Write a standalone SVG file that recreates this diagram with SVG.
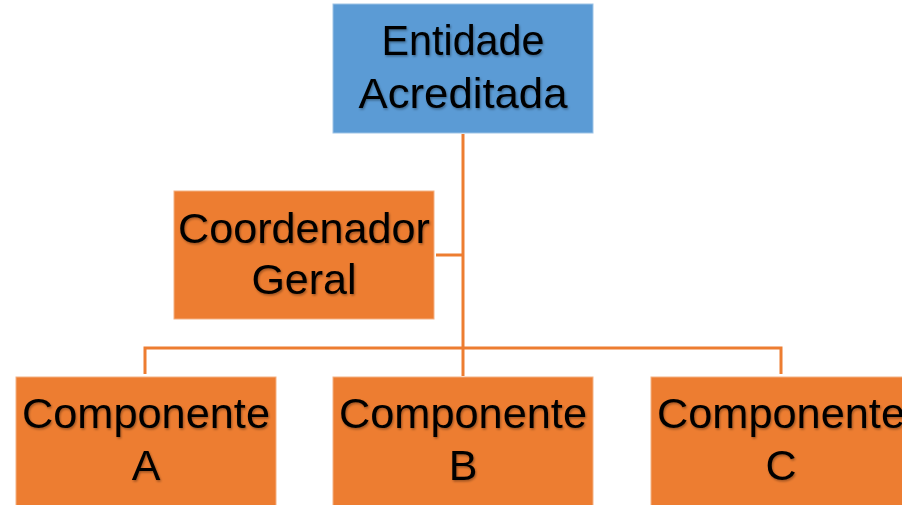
<svg xmlns="http://www.w3.org/2000/svg" width="902" height="505" viewBox="0 0 902 505">
  <defs>
    <filter id="sh" x="-10%" y="-10%" width="120%" height="140%">
      <feDropShadow dx="1" dy="1.5" stdDeviation="1" flood-color="#000" flood-opacity="0.35"/>
    </filter>
    <style>
      .blue { fill: #5B9BD5; stroke: #9DC3E6; stroke-width: 1; }
      .orange { fill: #ED7D31; stroke: #F4B183; stroke-width: 1; }
      .lbl { font-family: "Liberation Sans", Arial, sans-serif; font-size: 43px; fill: #000; text-anchor: middle; filter: url(#sh); }
      .conn { stroke: #ED7D31; stroke-width: 3; fill: none; }
    </style>
  </defs>
  <rect width="902" height="505" fill="#fff"/>
  <g id="connectors">
    <line class="conn" x1="463" y1="134" x2="463" y2="376"/>
    <line class="conn" x1="436" y1="255" x2="463" y2="255"/>
    <polyline class="conn" points="145,374 145,348 781,348 781,374"/>
  </g>
  <g id="entidade">
    <rect class="blue" x="333" y="4" width="260" height="129"/>
    <text class="lbl" x="463" y="55" textLength="163" lengthAdjust="spacingAndGlyphs">Entidade</text>
    <text class="lbl" x="463" y="108" textLength="209" lengthAdjust="spacingAndGlyphs">Acreditada</text>
  </g>
  <g id="coordenador">
    <rect class="orange" x="174" y="191" width="260" height="128"/>
    <text class="lbl" x="304" y="243" textLength="252" lengthAdjust="spacingAndGlyphs">Coordenador</text>
    <text class="lbl" x="304" y="294">Geral</text>
  </g>
  <g id="componenteA">
    <rect class="orange" x="16" y="377" width="260" height="129"/>
    <text class="lbl" x="146" y="428" textLength="248" lengthAdjust="spacingAndGlyphs">Componente</text>
    <text class="lbl" x="146" y="480">A</text>
  </g>
  <g id="componenteB">
    <rect class="orange" x="333" y="377" width="260" height="129"/>
    <text class="lbl" x="463" y="428" textLength="248" lengthAdjust="spacingAndGlyphs">Componente</text>
    <text class="lbl" x="463" y="480">B</text>
  </g>
  <g id="componenteC">
    <rect class="orange" x="651" y="377" width="260" height="129"/>
    <text class="lbl" x="781" y="428" textLength="248" lengthAdjust="spacingAndGlyphs">Componente</text>
    <text class="lbl" x="781" y="480">C</text>
  </g>
</svg>
